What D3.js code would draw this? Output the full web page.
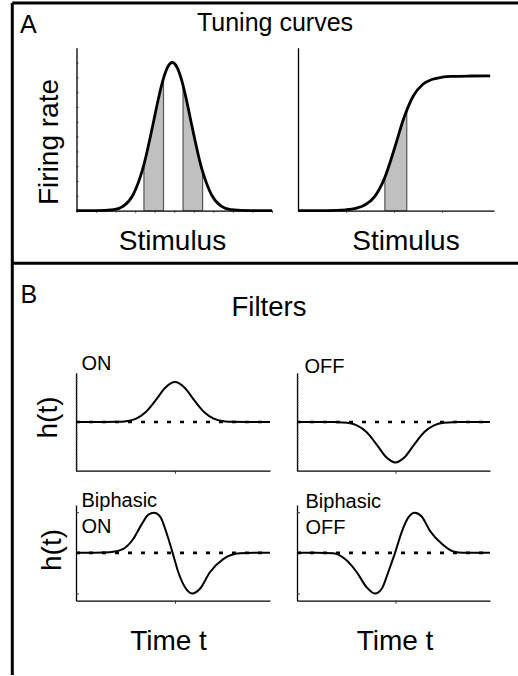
<!DOCTYPE html>
<html>
<head>
<meta charset="utf-8">
<script src="https://cdnjs.cloudflare.com/ajax/libs/d3/7.8.5/d3.min.js"></script>
<style>
  body { margin: 0; background: #fff; }
  svg { display: block; font-family: "Liberation Sans", Arial, sans-serif; }
  .domain { stroke: #000; stroke-width: 1.3; }
  .tick line { stroke: #333; stroke-width: 1; }
</style>
</head>
<body>
<svg id="fig" width="518" height="676"></svg>
<script>
// ---- values ----
// A: bell shaped tuning curve (stimulus units 0-10, rate 0-1.1)
const bellX = [0, 1, 1.9, 2.4, 2.9, 3.4, 3.9, 4.15, 4.4, 4.65, 4.9, 5.15, 5.4, 5.65, 5.9, 6.4, 6.9, 7.4, 7.9, 8.9, 10];
const bellY = [0, 0, 0.007, 0.031, 0.109, 0.287, 0.575, 0.732, 0.871, 0.966, 1.0, 0.966, 0.871, 0.732, 0.575, 0.287, 0.109, 0.031, 0.007, 0, 0];
const bellBands = [[3.45, 4.45], [5.45, 6.45]];

// A: sigmoid tuning curve
const sigX = [0, 1, 2, 2.5, 3, 3.5, 4, 4.5, 5, 5.5, 6, 6.5, 7, 7.5, 8, 9, 10];
const sigY = [0, 0.0003, 0.0023, 0.006, 0.016, 0.040, 0.097, 0.218, 0.411, 0.622, 0.774, 0.853, 0.887, 0.901, 0.906, 0.909, 0.91];
const sigBands = [[4.52, 5.66]];

// B: filters h(t)
const onX = [0, 1.1, 2.1, 2.6, 3.1, 3.6, 4.1, 4.6, 5.1, 5.6, 6.1, 6.6, 7.1, 7.6, 8.1, 9.1, 10];
const onY = [0, 0, 0.003, 0.017, 0.069, 0.204, 0.442, 0.703, 0.82, 0.703, 0.442, 0.204, 0.069, 0.017, 0.003, 0, 0];
const offX = [0, 1.1, 2.1, 2.6, 3.1, 3.6, 4.1, 4.6, 5.1, 5.6, 6.1, 6.6, 7.1, 7.6, 8.1, 9.1, 10];
const offY = [0, 0, -0.003, -0.017, -0.07, -0.206, -0.447, -0.712, -0.83, -0.712, -0.447, -0.206, -0.07, -0.017, -0.003, 0, 0];
const biOnX = [0, 1, 1.75, 2.44, 2.95, 3.39, 3.73, 4.02, 4.33, 4.68, 4.98, 5.27, 5.62, 5.99, 6.39, 6.91, 7.59, 8.45, 9.2, 10];
const biOnY = [0, 0, 0.01, 0.085, 0.29, 0.60, 0.80, 0.84, 0.76, 0.40, 0, -0.40, -0.72, -0.85, -0.75, -0.40, -0.13, -0.01, 0, 0];
const biOffX = [0, 1, 1.88, 2.49, 3.09, 3.61, 4.04, 4.39, 4.73, 5.08, 5.42, 5.77, 6.11, 6.46, 6.89, 7.50, 8.10, 8.62, 9.3, 10];
const biOffY = [0, 0, -0.01, -0.13, -0.40, -0.72, -0.85, -0.75, -0.40, 0, 0.43, 0.74, 0.84, 0.76, 0.46, 0.19, 0.03, 0, 0, 0];

// labels
const panelLetters = ["A", "B"];
const panelTitles = ["Tuning curves", "Filters"];
const filterLabels = [["ON"], ["OFF"], ["Biphasic", "ON"], ["Biphasic", "OFF"]];

const svg = d3.select('#fig');
const zip = (xs, ys) => xs.map((v, i) => ({x: v, y: ys[i]}));

// frame lines
svg.append('path')
  .attr('d', 'M12.3,3 H518 M12.3,3 V675 M12.3,263.3 H518')
  .attr('fill', 'none').attr('stroke', '#000').attr('stroke-width', 3);

// ---- Panel A ----
function tuningPlot(id, xd, xr, data, bands, yTicks, xTicks) {
  const x = d3.scaleLinear().domain(xd).range(xr);
  const y = d3.scaleLinear().domain([0, 1.1]).range([210.7, 47.7]);
  const g = svg.append('g');

  const area = d3.area().x(d => x(d.x)).y0(y(0)).y1(d => y(d.y)).curve(d3.curveMonotoneX);
  const line = d3.line().x(d => x(d.x)).y(d => y(d.y)).curve(d3.curveMonotoneX);

  g.append('clipPath').attr('id', id).append('path').attr('d', area(data));
  g.selectAll('rect.band').data(bands).enter().append('rect')
    .attr('class', 'band')
    .attr('x', d => x(d[0])).attr('width', d => x(d[1]) - x(d[0]))
    .attr('y', y(1.1)).attr('height', y(0) - y(1.1))
    .attr('fill', '#c0c0c0').attr('stroke', '#555').attr('stroke-width', 1.2)
    .attr('clip-path', `url(#${id})`);

  g.append('g').attr('transform', `translate(0,${y(0)})`)
    .call(d3.axisBottom(x).tickValues(xTicks).tickSize(2).tickSizeOuter(0).tickFormat(''));
  g.append('g').attr('transform', `translate(${xr[0]},0)`)
    .call(d3.axisRight(y).tickValues(yTicks).tickSize(2).tickSizeOuter(0).tickFormat(''));

  g.append('path').attr('d', line(data))
    .attr('fill', 'none').attr('stroke', '#000').attr('stroke-width', 2.8);
}

tuningPlot('clipBell', [0, 10], [76.5, 272], zip(bellX, bellY), bellBands,
  d3.range(1, 11).map(v => v / 10), d3.range(0, 11));
tuningPlot('clipSig', [0, 10.2], [298, 494], zip(sigX, sigY), sigBands,
  [], [2.5, 5, 7.5]);

// ---- Panel B ----
function filterPlot(xr, yr, data, yTicks, yTickLen) {
  const x = d3.scaleLinear().domain([0, 10]).range(xr);
  const y = d3.scaleLinear().domain([-1, 1]).range(yr);
  const g = svg.append('g');
  const line = d3.line().x(d => x(d.x)).y(d => y(d.y)).curve(d3.curveMonotoneX);

  g.append('g').attr('transform', `translate(0,${yr[0]})`)
    .call(d3.axisBottom(x).tickValues([5.1]).tickSize(3).tickSizeOuter(0).tickFormat(''));
  g.append('g').attr('transform', `translate(${xr[0]},0)`)
    .call(d3.axisRight(y).tickValues(yTicks).tickSize(yTickLen).tickSizeOuter(0).tickFormat(''));

  g.append('path').attr('d', line(data))
    .attr('fill', 'none').attr('stroke', '#000').attr('stroke-width', 2);
  g.append('line')
    .attr('x1', x(0)).attr('x2', x(10)).attr('y1', y(0)).attr('y2', y(0))
    .attr('stroke', '#000').attr('stroke-width', 2.6).attr('stroke-dasharray', '4,9');
}

const denseTicks = d3.range(-20, 21).map(v => v / 20);
filterPlot([76, 270], [470.7, 373.3], zip(onX, onY), denseTicks, 1.5);
filterPlot([297, 490], [470.7, 373.3], zip(offX, offY), denseTicks, 1.5);
filterPlot([76, 270], [600.7, 505], zip(biOnX, biOnY), [-0.85, 0.85], 3);
filterPlot([297, 490], [600.7, 505], zip(biOffX, biOffY), [-0.85, 0.85], 3);

// ---- text ----
function label(txt, x, y, size, anchor, rot) {
  const t = svg.append('text')
    .attr('font-size', size).attr('text-anchor', anchor || 'start').text(txt);
  if (rot) t.attr('transform', `translate(${x},${y}) rotate(-90)`);
  else t.attr('x', x).attr('y', y);
  return t;
}

label(panelLetters[0], 20, 33, 25);
label(panelLetters[1], 20.5, 303, 25);
label(panelTitles[0], 275, 31, 25, 'middle');
label(panelTitles[1], 269, 316, 27.5, 'middle');
label('Firing rate', 58, 142, 28, 'middle', true);
label('Stimulus', 172.5, 250, 28, 'middle');
label('Stimulus', 406, 250, 28, 'middle');
label('h(t)', 57, 417.5, 28, 'middle', true);
label('h(t)', 61, 550, 28, 'middle', true);
label('Time t', 168.5, 650, 28, 'middle');
label('Time t', 395, 650, 28, 'middle');

const labelPos = [[81.5, 370], [304.5, 373], [81.5, 507], [305.5, 508]];
filterLabels.forEach((lines, i) => {
  lines.forEach((s, j) => {
    label(s, labelPos[i][0], labelPos[i][1] + j * 26, 20);
  });
});
</script>
</body>
</html>
